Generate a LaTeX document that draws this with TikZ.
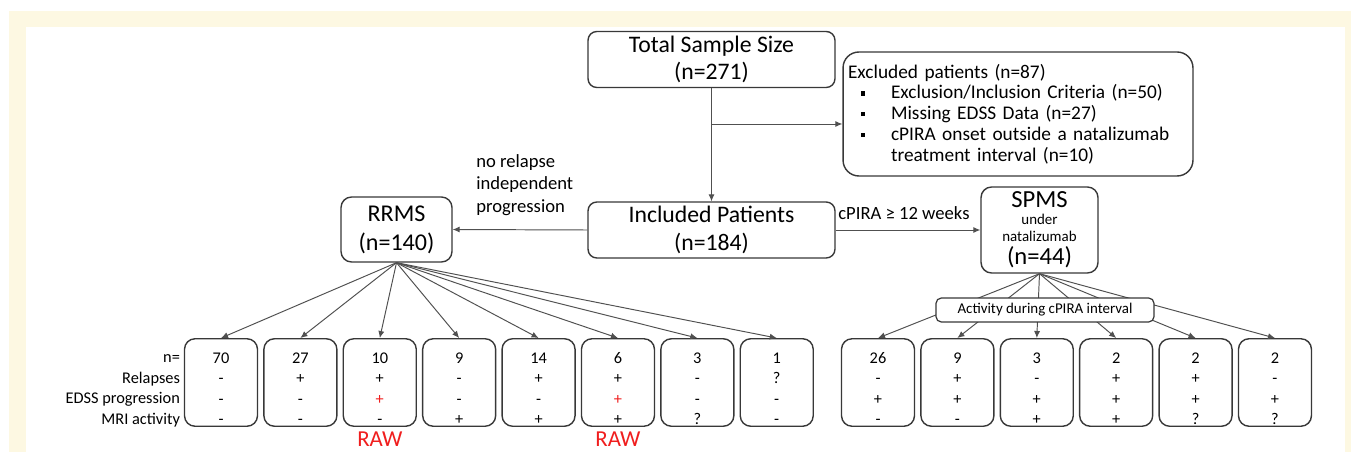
\documentclass[tikz,border=0pt]{standalone}
\usepackage{fontspec}
\setmainfont{Carlito}
\usepackage{xcolor}
\definecolor{FrameCream}{HTML}{FDF8E2}
\definecolor{BoxGray}{HTML}{383838}
\definecolor{LineGray}{HTML}{505050}
\definecolor{MarkRed}{HTML}{F01E1E}
\usetikzlibrary{arrows.meta, positioning}
% square bullet for the exclusion list
\newcommand{\exitem}{\makebox[0.86cm][l]{\hspace{0.26cm}\rule[0.18em]{0.085cm}{0.085cm}}}
% four table rows: n, relapses, EDSS progression, MRI activity
\newcommand{\fourrows}[4]{\rule{0pt}{14pt}#1\\#2\\#3\\#4\rule[-1pt]{0pt}{0pt}}
\tikzset{
  % Box styles
  mainbox/.style={rectangle, rounded corners=5pt, draw=BoxGray, line width=0.8pt, fill=white, minimum width=4.94cm, minimum height=1.12cm, align=center, inner sep=1pt, font=\fontsize{13.5}{15.5}\selectfont},
  groupbox/.style={rectangle, rounded corners=6pt, draw=BoxGray, line width=0.8pt, fill=white, align=center, inner sep=1pt, font=\fontsize{13.7}{16.4}\selectfont},
  notebox/.style={rectangle, rounded corners=9pt, draw=BoxGray, line width=0.8pt, minimum height=2.48cm, text width=6.8cm, inner xsep=0.1cm, align=left, font=\fontsize{11}{11.8}\selectfont},
  countbox/.style={rectangle, rounded corners=6pt, draw=BoxGray, line width=0.8pt, minimum width=1.46cm, minimum height=1.7cm, inner sep=0pt, align=center, font=\fontsize{9.3}{11.6}\selectfont},
  activitybox/.style={rectangle, rounded corners=3pt, draw=BoxGray, line width=0.7pt, fill=white, minimum width=4.36cm, minimum height=0.48cm, inner sep=1pt, font=\fontsize{8.5}{10}\selectfont},
  % Text styles
  rowlabel/.style={align=right, inner sep=0pt, font=\fontsize{9.3}{11.6}\selectfont},
  edgelabel/.style={align=left, inner sep=0pt, font=\fontsize{10.6}{13}\selectfont},
  rawlabel/.style={inner sep=0pt, text=MarkRed, font=\fontsize{13}{14}\selectfont},
  % Arrow styles
  arrow/.style={-{Latex[length=4pt,width=3.5pt]}, draw=LineGray, line width=0.55pt}
}

\begin{document}
\begin{tikzpicture}[x=0.02cm, y=-0.02cm]
  % Frame
  \useasboundingbox (0,0) rectangle (1351,452);
  \fill[FrameCream] (9,11) rectangle (1351,452);
  \fill[white] (26,27) rectangle (1345,452);

  % Cohort boxes
  \node[mainbox] (total) at (711.5,59.5) {Total Sample Size\\(n=271)};
  \node[mainbox] (included) at (711.5,230) {Included Patients\\(n=184)};
  \node[notebox] (excluded) at (1018,114) {Excluded patients (n=87)\\
    \exitem Exclusion/Inclusion Criteria (n=50)\\
    \exitem Missing EDSS Data (n=27)\\
    \exitem cPIRA onset outside a natalizumab\\
    \hspace*{0.86cm}treatment interval (n=10)};
  \node[groupbox, minimum width=2.22cm, minimum height=1.3cm] (rrms) at (396.5,229.5) {RRMS\\(n=140)};
  \node[groupbox, minimum width=2.34cm, minimum height=1.72cm, font=\fontsize{8.5}{9.6}\selectfont] (spms) at (1039.5,230)
    {{\fontsize{14}{16}\selectfont SPMS}\\under\\natalizumab\\[2pt]{\fontsize{14}{16}\selectfont (n=44)}};

  % RRMS subgroups
  \node[countbox] (r1) at (221,382.5) {\fourrows{70}{-}{-}{-}};
  \node[countbox, right=0.1cm of r1] (r2) {\fourrows{27}{+}{-}{-}};
  \node[countbox, right=0.1cm of r2] (r3) {\fourrows{10}{+}{\textcolor{MarkRed}{+}}{-}};
  \node[countbox, right=0.1cm of r3] (r4) {\fourrows{9}{-}{-}{+}};
  \node[countbox, right=0.1cm of r4] (r5) {\fourrows{14}{+}{-}{+}};
  \node[countbox, right=0.1cm of r5] (r6) {\fourrows{6}{+}{\textcolor{MarkRed}{+}}{+}};
  \node[countbox, right=0.1cm of r6] (r7) {\fourrows{3}{-}{-}{?}};
  \node[countbox, right=0.1cm of r7] (r8) {\fourrows{1}{?}{-}{-}};
  \node[rowlabel, left=0.07cm of r1] (rows) {\fourrows{n=}{Relapses}{EDSS progression}{MRI activity}};
  \node[rawlabel, below=0.1cm of r3] (raw1) {RAW};
  \node[rawlabel, below=0.1cm of r6] (raw2) {RAW};

  % SPMS subgroups
  \node[countbox] (s1) at (878,382.5) {\fourrows{26}{-}{+}{-}};
  \node[countbox, right=0.1cm of s1] (s2) {\fourrows{9}{+}{+}{-}};
  \node[countbox, right=0.1cm of s2] (s3) {\fourrows{3}{-}{+}{+}};
  \node[countbox, right=0.1cm of s3] (s4) {\fourrows{2}{+}{+}{+}};
  \node[countbox, right=0.1cm of s4] (s5) {\fourrows{2}{+}{+}{?}};
  \node[countbox, right=0.1cm of s5] (s6) {\fourrows{2}{-}{+}{?}};

  % Flow
  \draw[arrow] (total.south) -- (included.north);
  \coordinate (split) at (711.5,124);
  \draw[arrow] (split) -- (split -| excluded.west);
  \draw[arrow] (included.west) -- (rrms.east);
  \draw[arrow] (included.east) -- (spms.west);
  \node[edgelabel, anchor=west] (norelapse) at (476,185) {no relapse\\independent\\progression};
  \node[edgelabel, anchor=west] (cpira) at (838,213) {cPIRA ≥ 12 weeks};

  % Fan-out to subgroups
  \draw[arrow] (rrms.south) -- (r1.north);
  \draw[arrow] (rrms.south) -- (r2.north);
  \draw[arrow] (rrms.south) -- (r3.north);
  \draw[arrow] (rrms.south) -- (r4.north);
  \draw[arrow] (rrms.south) -- (r5.north);
  \draw[arrow] (rrms.south) -- (r6.north);
  \draw[arrow] (rrms.south) -- (r7.north);
  \draw[arrow] (rrms.south) -- (r8.north);
  \draw[arrow] (spms.south) -- (s1.north);
  \draw[arrow] (spms.south) -- (s2.north);
  \draw[arrow] (spms.south) -- (s3.north);
  \draw[arrow] (spms.south) -- (s4.north);
  \draw[arrow] (spms.south) -- (s5.north);
  \draw[arrow] (spms.south) -- (s6.north);
  \node[activitybox] (activity) at (1045,310) {Activity during cPIRA interval};
\end{tikzpicture}
\end{document}
